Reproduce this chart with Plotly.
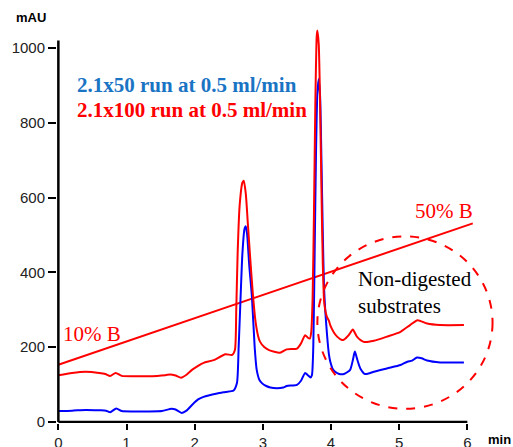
import plotly.graph_objects as go

# ---- data ----
t_blue = [0.0, 0.2, 0.4, 0.6, 0.70, 0.76, 0.85, 0.93, 1.1, 1.3, 1.52, 1.66, 1.72, 1.81, 1.88, 1.96,
          2.05, 2.13, 2.33, 2.45, 2.57, 2.62, 2.645, 2.67, 2.70, 2.73, 2.75, 2.77, 2.80, 2.84, 2.88,
          2.91, 2.95, 2.99, 3.05, 3.11, 3.21, 3.30, 3.35, 3.50, 3.56, 3.62, 3.66, 3.70, 3.72, 3.74,
          3.76, 3.78, 3.80, 3.82, 3.84, 3.86, 3.88, 3.90, 3.94, 3.97, 3.99, 4.03, 4.06, 4.12, 4.19,
          4.28, 4.32, 4.35, 4.38, 4.43, 4.50, 4.63, 4.82, 5.02, 5.12, 5.19, 5.26, 5.33, 5.41, 5.60, 5.95]
a_blue = [29, 30, 32, 31, 30, 26, 36, 29, 28, 28, 29, 35, 33, 24, 30, 45,
          60, 67, 76, 80, 84, 104, 200, 317, 450, 515, 523, 500, 420, 334, 200,
          139, 112, 103, 96, 92, 90, 92, 96, 99, 110, 131, 125, 119, 125, 200,
          450, 720, 880, 917, 870, 700, 500, 350, 237, 180, 161, 140, 134, 128, 128,
          139, 165, 188, 170, 143, 128, 134, 143, 152, 161, 164, 172, 170, 164, 159, 159]

t_red = [0.0, 0.2, 0.4, 0.6, 0.69, 0.76, 0.84, 0.93, 1.1, 1.3, 1.57, 1.64, 1.72, 1.80, 1.88, 1.96,
         2.05, 2.13, 2.28, 2.45, 2.55, 2.59, 2.61, 2.63, 2.66, 2.70, 2.72, 2.75, 2.78, 2.81, 2.85,
         2.89, 2.93, 2.96, 3.02, 3.09, 3.25, 3.35, 3.50, 3.56, 3.62, 3.66, 3.69, 3.71, 3.73, 3.75,
         3.77, 3.79, 3.80, 3.82, 3.84, 3.86, 3.88, 3.90, 3.92, 3.94, 3.97, 3.99, 4.04, 4.09, 4.16,
         4.19, 4.26, 4.32, 4.38, 4.48, 4.63, 4.82, 5.02, 5.16, 5.27, 5.41, 5.60, 5.95]
a_red = [125, 131, 134, 131, 128, 123, 131, 123, 122, 122, 125, 127, 124, 118, 126, 139,
         150, 158, 165, 181, 179, 192, 300, 450, 580, 640, 645, 610, 530, 450, 350,
         272, 230, 214, 200, 192, 185, 194, 196, 210, 232, 225, 223, 240, 330, 560,
         850, 1030, 1047, 1010, 850, 620, 420, 320, 295, 281, 270, 258, 240, 228, 219,
         220, 232, 247, 228, 214, 217, 228, 241, 259, 272, 263, 259, 259]

t_gradient = [0.0, 6.08]
a_gradient = [153, 531]          # drawn on the mAU scale: 10% B -> 50% B

x_ticks = [0, 1, 2, 3, 4, 5, 6]
y_ticks = [0, 200, 400, 600, 800, 1000]

label_blue = "2.1x50 run at 0.5 ml/min"
label_red = "2.1x100 run at 0.5 ml/min"

# highlight circle (time / mAU extents)
circle_t = [3.80, 6.37]
circle_a = [35, 496]

RED = "#ff0000"
BLUE = "#0000ff"
LBLUE = "#1a74c4"
SERIF = "Liberation Serif, Times New Roman, serif"
SANS = "Liberation Sans, Arial, sans-serif"

fig = go.Figure()
fig.add_trace(go.Scatter(x=t_gradient, y=a_gradient, mode="lines",
                         line=dict(color=RED, width=2), hoverinfo="skip"))
fig.add_trace(go.Scatter(x=t_blue, y=a_blue, mode="lines",
                         line=dict(color=BLUE, width=2, shape="spline", smoothing=0.6)))
fig.add_trace(go.Scatter(x=t_red, y=a_red, mode="lines",
                         line=dict(color=RED, width=2, shape="spline", smoothing=0.6)))

# axis lines
fig.add_shape(type="line", x0=0, x1=x_ticks[-1], y0=0, y1=0, xref="x", yref="y",
              line=dict(color="black", width=2.5))
fig.add_shape(type="line", x0=0, x1=0, y0=0, y1=1020, xref="x", yref="y",
              line=dict(color="black", width=2.5))
# dashed circle
fig.add_shape(type="circle", x0=circle_t[0], x1=circle_t[1], y0=circle_a[0], y1=circle_a[1],
              xref="x", yref="y", line=dict(color=RED, width=2, dash="dash"))

ann = [
    dict(text="<b>%s</b>" % label_blue, x=0.25, y=901, xanchor="left", yanchor="middle",
         font=dict(family=SERIF, size=21, color=LBLUE)),
    dict(text="<b>%s</b>" % label_red, x=0.25, y=834, xanchor="left", yanchor="middle",
         font=dict(family=SERIF, size=21, color=RED)),
    dict(text="10% B", x=0.49, y=235, xanchor="center", yanchor="middle",
         font=dict(family=SERIF, size=21, color=RED)),
    dict(text="50% B", x=5.66, y=564, xanchor="center", yanchor="middle",
         font=dict(family=SERIF, size=21, color=RED)),
    dict(text="Non-digested<br>substrates", x=4.36, y=346, xanchor="left", yanchor="middle",
         align="left", font=dict(family=SERIF, size=21, color="black")),
]
for a in ann:
    a.update(xref="x", yref="y", showarrow=False)
ann += [
    dict(text="<b>mAU</b>", x=-0.058, y=1.005, xref="paper", yref="paper", showarrow=False,
         xanchor="center", yanchor="middle", font=dict(family=SANS, size=13, color="black")),
    dict(text="<b>min</b>", x=1.003, y=-0.042, xref="paper", yref="paper", showarrow=False,
         xanchor="center", yanchor="middle", font=dict(family=SANS, size=13, color="black")),
]
fig.update_layout(annotations=ann)

fig.update_layout(
    width=513, height=447,
    margin=dict(l=56.6, r=15.4, t=19.9, b=23.9),
    paper_bgcolor="white", plot_bgcolor="white",
    showlegend=False,
    xaxis=dict(range=[-0.02, 6.45], tickvals=x_ticks, showgrid=False, zeroline=False,
               showline=False, ticks="outside", ticklen=6, tickwidth=2, tickcolor="black",
               automargin=False,
               tickfont=dict(family=SANS, size=15, color="#222")),
    yaxis=dict(range=[-3, 1075], tickvals=y_ticks, showgrid=False, zeroline=False,
               showline=False, ticks="outside", ticklen=8, tickwidth=2, tickcolor="black",
               automargin=False,
               tickfont=dict(family=SANS, size=15, color="#222")),
)

fig.write_html("out.html", config={"displayModeBar": False},
               post_script="document.body.style.margin='0';")
